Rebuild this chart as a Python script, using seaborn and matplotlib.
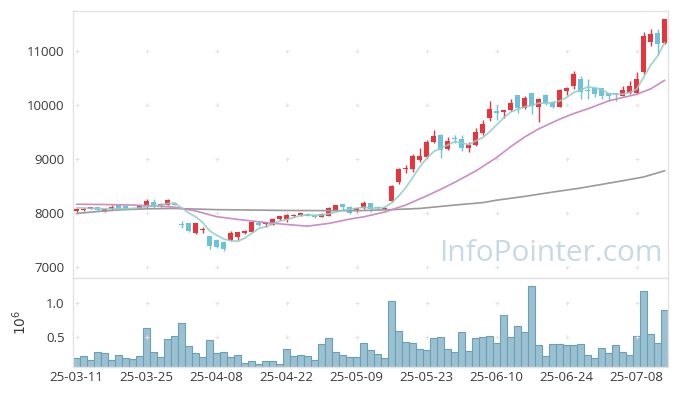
import numpy as np
import pandas as pd
import matplotlib
matplotlib.use('Agg')
import matplotlib.pyplot as plt
import seaborn as sns

# trading days (KRX calendar, holidays removed)
holidays = ['2025-05-01', '2025-05-05', '2025-05-06', '2025-06-03', '2025-06-06']
trade_days = pd.bdate_range('2025-03-11', '2025-07-14', freq='C', holidays=holidays)

opens = [8040, 8055, 8080, 8110, 8040, 8070, 8150, 8130, 8100, 8075,
         8120, 8210, 8140, 8160, 8185, 7800, 7810, 7640, 7680, 7575,
         7510, 7470, 7500, 7560, 7640, 7655, 7810, 7800, 7790, 7885,
         7885, 7950, 7960, 7990, 7970, 7930, 7950, 8045, 8165, 8115,
         8060, 8090, 8180, 8110, 8085, 8230, 8580, 8810, 8820, 8985,
         9040, 9320, 9450, 9190, 9380, 9380, 9210, 9270, 9485, 9770,
         9890, 9875, 9905, 10180, 9940, 10225, 9970, 10180, 10060, 9970,
         10265, 10350, 10480, 10280, 10310, 10310, 10215, 10220, 10170, 10225,
         10225, 10615, 11170, 11335, 11150]
highs = [8090, 8100, 8120, 8120, 8085, 8150, 8155, 8140, 8110, 8160,
         8270, 8270, 8190, 8260, 8200, 7850, 7815, 7820, 7750, 7580,
         7520, 7480, 7670, 7660, 7690, 7840, 7860, 7840, 7910, 7950,
         7980, 7990, 8010, 7995, 7975, 8000, 8120, 8160, 8170, 8125,
         8100, 8230, 8185, 8140, 8110, 8530, 8830, 8900, 9090, 9200,
         9350, 9530, 9460, 9410, 9440, 9440, 9320, 9580, 9720, 10075,
         10000, 9915, 10110, 10190, 10160, 10230, 10140, 10200, 10070, 10290,
         10330, 10640, 10540, 10480, 10320, 10320, 10220, 10230, 10360, 10440,
         10610, 11350, 11400, 11400, 11600]
lows = [8030, 8040, 8070, 8040, 8020, 8060, 8060, 8070, 8080, 8070,
        8100, 8100, 8120, 8150, 8150, 7730, 7660, 7610, 7630, 7340,
        7360, 7300, 7480, 7510, 7620, 7650, 7770, 7750, 7780, 7870,
        7830, 7930, 7950, 7940, 7915, 7925, 7945, 8040, 8060, 7990,
        8020, 8080, 8030, 8050, 8070, 8210, 8540, 8740, 8770, 8950,
        9020, 9300, 9030, 9160, 9290, 9150, 9140, 9250, 9440, 9700,
        9730, 9760, 9890, 9850, 9920, 9830, 9680, 10000, 9950, 9960,
        10190, 10300, 10115, 10115, 10150, 10110, 10070, 10070, 10160, 10200,
        10210, 10570, 11090, 10920, 11140]
closes = [8075, 8085, 8105, 8050, 8080, 8105, 8075, 8080, 8090, 8135,
          8230, 8120, 8170, 8240, 8160, 7790, 7670, 7810, 7705, 7390,
          7380, 7335, 7640, 7650, 7675, 7835, 7775, 7815, 7900, 7945,
          7970, 7975, 7995, 7945, 7920, 7990, 8090, 8150, 8120, 8005,
          8090, 8180, 8080, 8100, 8095, 8500, 8810, 8840, 9055, 9055,
          9320, 9425, 9170, 9340, 9370, 9210, 9260, 9505, 9645, 9920,
          9845, 9905, 10040, 9940, 10140, 9980, 10120, 10030, 9970, 10275,
          10320, 10570, 10245, 10270, 10200, 10165, 10165, 10210, 10275, 10350,
          10480, 11275, 11325, 11125, 11590]
volumes = [177000, 207000, 151000, 266000, 251000, 151000, 221000, 177000, 162000, 207000,
           625000, 266000, 192000, 461000, 506000, 700000, 356000, 251000, 192000, 446000,
           251000, 266000, 192000, 221000, 102000, 132000, 87000, 132000, 132000, 87000,
           311000, 207000, 221000, 207000, 147000, 386000, 476000, 266000, 221000, 192000,
           192000, 401000, 296000, 236000, 177000, 1030000, 581000, 416000, 401000, 311000,
           296000, 476000, 491000, 311000, 266000, 566000, 281000, 476000, 491000, 506000,
           401000, 820000, 491000, 656000, 566000, 1254000, 371000, 207000, 386000, 386000,
           371000, 371000, 386000, 221000, 177000, 326000, 251000, 371000, 266000, 221000,
           506000, 1180000, 536000, 401000, 895000]

# moving averages
ma5 = [8100, 8095, 8090, 8085, 8079, 8085, 8083, 8078, 8086, 8097,
       8122, 8131, 8149, 8179, 8184, 8096, 8006, 7934, 7827, 7673,
       7591, 7524, 7490, 7479, 7536, 7627, 7715, 7750, 7800, 7854,
       7881, 7921, 7957, 7966, 7961, 7965, 7988, 8019, 8054, 8071,
       8091, 8109, 8095, 8091, 8109, 8191, 8317, 8469, 8660, 8852,
       9016, 9139, 9203, 9260, 9323, 9301, 9268, 9337, 9398, 9508,
       9635, 9764, 9871, 9923, 9967, 9994, 10037, 10035, 10048, 10075,
       10143, 10233, 10276, 10336, 10321, 10290, 10209, 10202, 10203, 10233,
       10296, 10518, 10741, 10911, 11159]
ma20_idx = [0, 4, 8, 12, 14, 17, 20, 23, 26, 30, 33, 36, 39, 41, 44, 47, 50,
            52, 54, 57, 60, 62, 64, 66, 69, 71, 73, 76, 78, 80, 82, 84]
ma20 = [8165, 8160, 8150, 8130, 8110, 8040, 7935, 7885, 7840, 7790, 7760, 7810,
        7890, 7932, 8020, 8150, 8320, 8440, 8570, 8780, 9030, 9230, 9410, 9560,
        9740, 9844, 9930, 10078, 10140, 10200, 10300, 10460]
ma60_idx = [0, 3, 6, 10, 14, 20, 30, 40, 45, 49, 54, 58, 60, 64, 68, 72, 76, 78, 81, 84]
ma60 = [7995, 8030, 8060, 8080, 8087, 8065, 8050, 8045, 8065, 8087, 8150, 8195,
        8240, 8310, 8390, 8465, 8555, 8600, 8670, 8785]

idx = np.arange(len(closes))
tick_idx = list(range(0, len(closes), 10))
tick_labels = [trade_days[i].strftime('%y-%m-%d') for i in tick_idx]

sns.set_theme(style='white')
plt.rcParams['font.family'] = ['Open Sans', 'DejaVu Sans']

up_color = '#e8343c'
down_color = '#6cc2da'
grid_color = '#e4e4e4'
text_color = '#3a3a3a'

fig = plt.figure(figsize=(6.77, 3.96), dpi=100)
ax = fig.add_axes([0.108, 0.298, 0.879, 0.674])
ax2 = fig.add_axes([0.108, 0.073, 0.879, 0.225], sharex=ax)

# candles
o = np.array(opens)
c = np.array(closes)
colors = np.where(c >= o, up_color, down_color)
ax.vlines(idx, lows, highs, colors=colors, linewidth=1, zorder=2)
body = np.maximum(np.abs(c - o), 14)
ax.bar(idx, body, bottom=np.minimum(o, c) - (body - np.abs(c - o)) / 2,
       width=0.72, color=colors, linewidth=0, zorder=3)

# moving averages
sns.lineplot(x=ma60_idx, y=ma60, ax=ax, color='#9a9a9a', linewidth=1.2, zorder=4)
sns.lineplot(x=ma20_idx, y=ma20, ax=ax, color='#cc8cc6', linewidth=1.2, zorder=4)
sns.lineplot(x=idx, y=ma5, ax=ax, color='#8fcec8', linewidth=1.3, alpha=0.85, zorder=5)

# volume
sns.barplot(x=idx, y=np.array(volumes) / 1e6, ax=ax2, color='#9bc1d1', width=1.0,
            saturation=1, edgecolor='#6a9fb9', linewidth=0.8, native_scale=True)

ax.set_ylim(6800, 11740)
ax.set_yticks([7000, 8000, 9000, 10000, 11000])
ax2.set_ylim(0.04, 1.38)
ax2.set_yticks([0.5, 1.0])
ax2.set_yticklabels(['0.5', '1.0'])
ax.set_xlim(-0.5, len(closes) - 0.5)
ax2.set_xticks(tick_idx)
ax2.set_xticklabels(tick_labels)

# small cross marks at grid intersections
for a, yt in [(ax, [7000, 8000, 9000, 10000, 11000]), (ax2, [0.5, 1.0])]:
    gx, gy = np.meshgrid(tick_idx, yt)
    a.scatter(gx.ravel(), gy.ravel(), marker='+', s=12, color=grid_color,
              linewidths=0.8, zorder=1)
    for s in a.spines.values():
        s.set_color('#e2e2e2')
        s.set_linewidth(1)
    a.set_xlabel('')
    a.set_ylabel('')

ax.tick_params(axis='x', which='both', length=3, color='#e2e2e2', direction='inout',
               labelbottom=False)
ax.tick_params(axis='y', length=0, labelsize=9.5, labelcolor=text_color, pad=6)
ax2.tick_params(axis='x', length=0, labelsize=9.5, labelcolor=text_color, pad=3)
ax2.tick_params(axis='y', length=0, labelsize=9.5, labelcolor=text_color, pad=6)
ax2.set_ylabel(r'$10^6$', fontsize=10, color=text_color)
ax2.yaxis.set_label_coords(-0.072, 0.5)

# watermark
ax.text(0.803, 0.09, 'InfoPointer.com', transform=ax.transAxes, ha='center',
        va='center', fontsize=21.5, color='#c6d9e4', zorder=0)

fig.savefig('out.png', dpi=100)
